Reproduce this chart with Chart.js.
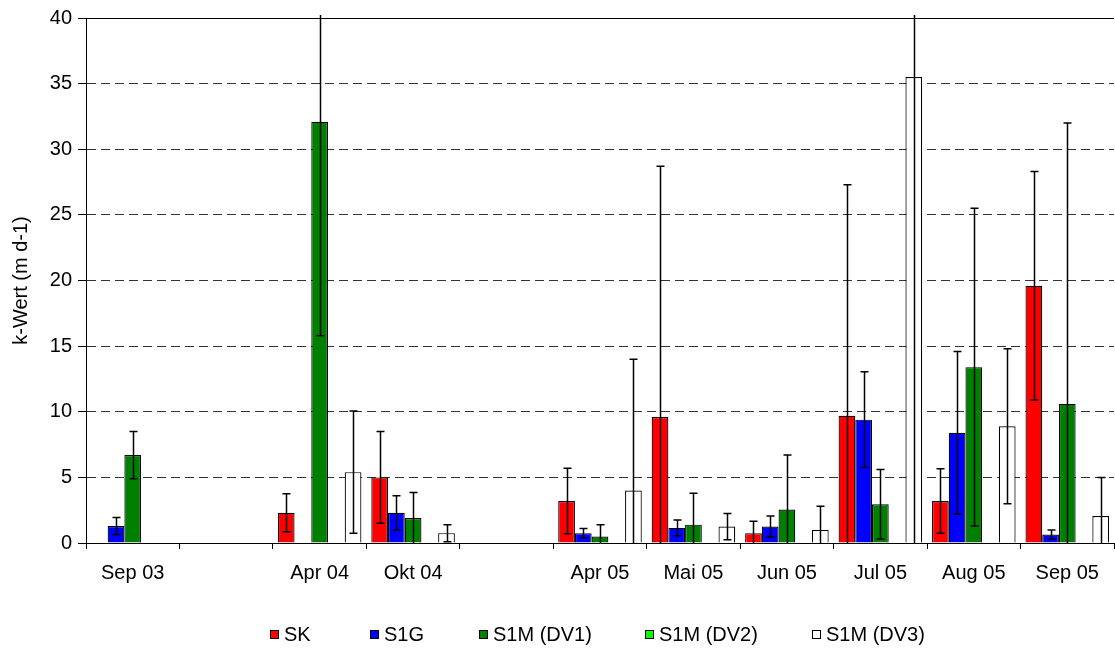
<!DOCTYPE html>
<html>
<head>
<meta charset="utf-8">
<script src="https://cdn.jsdelivr.net/npm/chart.js@4/dist/chart.umd.min.js"></script>
<style>
  body { margin: 0; background: #fff; }
  .wrap { position: relative; width: 1115px; height: 650px; }
  .legend { position: absolute; left: 0; top: 623px; width: 1115px; height: 24px; list-style: none; margin: 0; padding: 0;
    font-family: "Liberation Sans", Arial, sans-serif; font-size: 20px; color: #000; }
  .legend li { position: absolute; top: 0; display: flex; align-items: center; white-space: nowrap; }
  .legend .box { width: 7px; height: 7px; border: 1px solid #000; margin-right: 5px; }
</style>
</head>
<body>
<div class="wrap">
  <canvas id="k-chart" width="1115" height="650"></canvas>
  <ul class="legend"></ul>
</div>
<script>
let categories = ["Sep 03", "", "Apr 04", "Okt 04", "", "Apr 05", "Mai 05", "Jun 05", "Jul 05", "Aug 05", "Sep 05"];
let seriesNames = ["SK", "S1G", "S1M (DV1)", "S1M (DV2)", "S1M (DV3)"];
let seriesColors = ["#ff0000", "#0000ff", "#008000", "#00ff00", "#ffffff"];

let skValues = [null, null, 2.3, 5.0, null, 3.2, 9.6, 0.75, 9.7, 3.2, 19.6];
let skErrors = [null, null, 1.45, 3.5, null, 2.5, 19.1, 0.9, 17.6, 2.45, 8.7];
let s1gValues = [1.3, null, null, 2.3, null, 0.75, 1.15, 1.25, 9.4, 8.4, 0.65];
let s1gErrors = [0.65, null, null, 1.3, null, 0.35, 0.6, 0.8, 3.65, 6.2, 0.35];
let dv1Values = [6.7, null, 32.1, 1.9, null, 0.5, 1.4, 2.55, 2.95, 13.4, 10.6];
let dv1Errors = [1.8, null, 16.3, 1.95, null, 0.9, 2.4, 4.15, 2.65, 12.1, 21.4];
let dv2Values = [null, null, null, null, null, null, null, null, null, null, null];
let dv2Errors = [null, null, null, null, null, null, null, null, null, null, null];
let dv3Values = [null, null, 5.4, 0.75, null, 4.0, 1.25, 1.0, 35.5, 8.9, 2.05];
let dv3Errors = [null, null, 4.65, 0.65, null, 10.0, 1.0, 1.8, 36, 5.9, 2.95];

let yTicks = [0, 5, 10, 15, 20, 25, 30, 35, 40];

let allValues = [skValues, s1gValues, dv1Values, dv2Values, dv3Values];
let allErrors = [skErrors, s1gErrors, dv1Errors, dv2Errors, dv3Errors];

const fontFamily = "'Liberation Sans', Arial, sans-serif";
const legendLeft = [270, 370, 479, 645, 812];

//error bars (+/-) drawn on top of the bars
const errorBars = {
  id: "errorBars",
  afterDatasetsDraw(chart) {
    const { ctx, chartArea, scales } = chart;
    const yScale = scales.y;
    ctx.save();
    ctx.strokeStyle = "#000";
    ctx.lineWidth = 1.5;
    chart.data.datasets.forEach((ds, di) => {
      const meta = chart.getDatasetMeta(di);
      ds.errors.forEach((err, i) => {
        const v = ds.data[i];
        if (v == null || err == null) return;
        const x = Math.round(meta.data[i].x) + 0.5;
        const yHi = yScale.getPixelForValue(v + err);
        const yLo = yScale.getPixelForValue(v - err);
        const top = Math.max(yHi, chartArea.top - 3);
        const bottom = Math.min(yLo, chartArea.bottom);
        ctx.beginPath();
        ctx.moveTo(x, top);
        ctx.lineTo(x, bottom);
        if (yHi >= chartArea.top) {
          ctx.moveTo(x - 4, yHi);
          ctx.lineTo(x + 4, yHi);
        }
        if (yLo <= chartArea.bottom) {
          ctx.moveTo(x - 4, yLo);
          ctx.lineTo(x + 4, yLo);
        }
        ctx.stroke();
      });
    });
    //top frame line
    ctx.lineWidth = 1;
    ctx.beginPath();
    ctx.moveTo(chartArea.left, Math.round(chartArea.top) + 0.5);
    ctx.lineTo(chartArea.right, Math.round(chartArea.top) + 0.5);
    ctx.stroke();
    ctx.restore();
  },
};

const ctx = document.getElementById("k-chart").getContext("2d");
const kChart = new Chart(ctx, {
  type: "bar",
  data: {
    labels: categories,
    datasets: seriesNames.map((name, index) => ({
      label: name,
      data: allValues[index],
      errors: allErrors[index],
      backgroundColor: seriesColors[index],
      borderColor: "#000",
      borderWidth: 1.2,
      categoryPercentage: 0.894,
      barPercentage: 1,
    })),
  },
  options: {
    responsive: false,
    animation: false,
    layout: { padding: { top: 17, right: 1, bottom: 0, left: 0 } },
    plugins: {
      legend: { display: false },
      tooltip: { enabled: false },
    },
    scales: {
      x: {
        grid: { display: true, drawOnChartArea: false, offset: true, tickLength: 6, tickColor: "#000", tickWidth: 1 },
        border: { color: "#000", width: 1 },
        ticks: { color: "#000", font: { family: fontFamily, size: 20 }, padding: 12, maxRotation: 0, autoSkip: false },
        afterFit(scale) { scale.height = 107; },
      },
      y: {
        min: 0,
        max: 40,
        afterBuildTicks(scale) { scale.ticks = yTicks.map((v) => ({ value: v })); },
        grid: { color: "#333", lineWidth: 1, tickLength: 8, tickColor: "#000", tickWidth: 1 },
        border: { color: "#000", width: 1, dash: [9, 5] },
        ticks: { color: "#000", font: { family: fontFamily, size: 20 }, padding: 6 },
        title: {
          display: true,
          text: "k-Wert (m d-1)",
          color: "#000",
          font: { family: fontFamily, size: 20 },
          padding: { top: 9, bottom: 0 },
        },
        afterFit(scale) { scale.width = 86; },
      },
    },
  },
  plugins: [errorBars],
});

//building legend
let legend = document.querySelector(".legend");
seriesNames.forEach((name, index) => {
  let item = document.createElement("li");
  item.style.left = legendLeft[index] + "px";
  item.innerHTML = `<div class="box" style="background:${seriesColors[index]}"></div><div>${name}</div>`;
  legend.appendChild(item);
});
</script>
</body>
</html>
